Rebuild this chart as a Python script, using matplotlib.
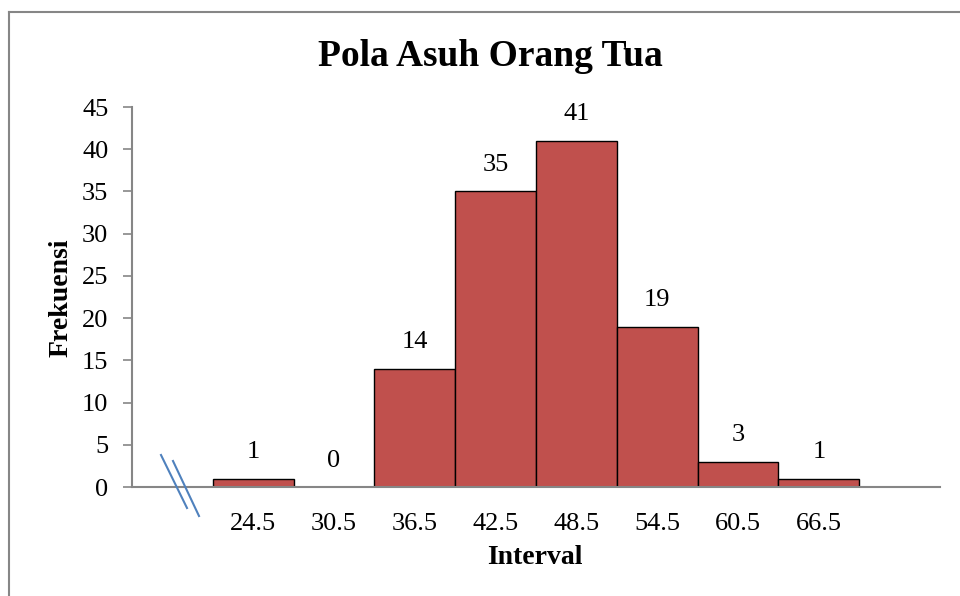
import numpy as np
import matplotlib.pyplot as plt
from matplotlib.lines import Line2D

intervals = ["24.5", "30.5", "36.5", "42.5", "48.5", "54.5", "60.5", "66.5"]
frekuensi = [1, 0, 14, 35, 41, 19, 3, 1]

plt.rcParams["font.family"] = ["Liberation Serif", "DejaVu Serif"]

W, H = 960, 596
fig = plt.figure(figsize=(W / 100, H / 100), dpi=100)
ax = fig.add_axes([132 / W, 1 - 487 / H, (940 - 132) / W, (487 - 107) / H])

x = np.arange(len(intervals))
ax.bar(x, frekuensi, width=1.0, color="#C0504D", edgecolor="black", linewidth=1.0)
for xi, v in zip(x, frekuensi):
    ax.annotate(str(v), (xi, v), xytext=(0, 19), textcoords="offset points",
                ha="center", va="center", fontsize=19)

ax.set_xlim(-1.5, len(intervals) + 0.5)
ax.set_ylim(0, 45)
ax.set_yticks(range(0, 46, 5))
ax.set_xticks(x)
ax.set_xticklabels(intervals)
ax.tick_params(axis="x", length=0, pad=19, labelsize=19)
ax.tick_params(axis="y", length=6.5, color="#868686", width=1.2, pad=10.5, labelsize=19)

for s in ["top", "right"]:
    ax.spines[s].set_visible(False)
for s in ["left", "bottom"]:
    ax.spines[s].set_color("#868686")
    ax.spines[s].set_linewidth(1.5)

fig.text(490 / W, 1 - 57 / H, "Pola Asuh Orang Tua", fontsize=27, fontweight="bold",
         ha="center", va="center")
ax.set_xlabel("Interval", fontsize=20, fontweight="bold", va="center")
ax.set_ylabel("Frekuensi", fontsize=20, fontweight="bold", va="center")
ax.xaxis.set_label_coords((535 - 132) / (940 - 132), -(558 - 487) / (487 - 107))
ax.yaxis.set_label_coords(-(132 - 61) / (940 - 132), (487 - 298) / (487 - 107))

# axis break marks
def px(xp, yp):
    return xp / W, 1 - yp / H

for (x0, y0), (x1, y1) in [((161, 455), (187, 508)), ((173, 461), (199, 516))]:
    a, b = px(x0, y0)
    c, d = px(x1, y1)
    fig.add_artist(Line2D([a, c], [b, d], color="#4F81BD", linewidth=1.5))

# chart border
fig.add_artist(Line2D([9 / W, 1], [1 - 12 / H, 1 - 12 / H], color="#868686", linewidth=1.5))
fig.add_artist(Line2D([9 / W, 9 / W], [1 - 12 / H, 0], color="#868686", linewidth=1.5))

fig.savefig("out.png", dpi=100)
